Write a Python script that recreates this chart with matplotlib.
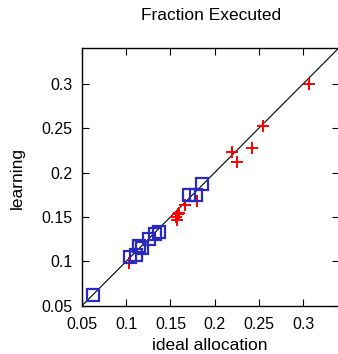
import matplotlib
matplotlib.use("Agg")
import matplotlib.pyplot as plt

plt.rcParams['font.family'] = ['Liberation Sans', 'DejaVu Sans']

# Red pluses: (ideal allocation, learning)
red_x = [0.307, 0.255, 0.220, 0.225, 0.2425, 0.180, 0.167, 0.158, 0.156, 0.157, 0.160, 0.103]
red_y = [0.300, 0.252, 0.223, 0.212, 0.228, 0.168, 0.163, 0.153, 0.150, 0.147, 0.155, 0.098]

# Blue squares
blue_x = [0.062, 0.104, 0.111, 0.114, 0.118, 0.126, 0.1326, 0.137, 0.171, 0.1786, 0.1853]
blue_y = [0.0624, 0.105, 0.107, 0.1177, 0.1148, 0.1256, 0.1306, 0.1332, 0.1749, 0.1749, 0.1866]

xticks = [0.05, 0.1, 0.15, 0.2, 0.25, 0.3]
yticks = [0.05, 0.1, 0.15, 0.2, 0.25, 0.3]
lim = [0.05, 0.34]

W, H = 338, 354
fig = plt.figure(figsize=(W / 100, H / 100), dpi=100)
ax = fig.add_axes([82 / W, (H - 305.7) / H, 256.5 / W, 257.4 / H])

ax.plot(lim, lim, color='black', lw=0.8)
ax.plot(red_x, red_y, linestyle='none', marker='+', color='#ff0000',
        markersize=8, markeredgewidth=1.4)
ax.plot(blue_x, blue_y, linestyle='none', marker='s', markerfacecolor='none',
        markeredgecolor='#2a2ac0', markersize=8, markeredgewidth=1.6)

ax.set_xlim(lim)
ax.set_ylim(lim)
ax.set_xticks(xticks)
ax.set_yticks(yticks)
ax.set_xticklabels([f"{t:g}" for t in xticks])
ax.set_yticklabels([f"{t:g}" for t in yticks])
ax.tick_params(direction='in', length=5, width=0.8, top=True, right=True,
               labelsize=11.5)
ax.tick_params(axis='x', pad=8)
ax.tick_params(axis='y', pad=7)
for s in ax.spines.values():
    s.set_linewidth(1.0)

fig.text(211 / W, 1 - 16 / H, "Fraction Executed", fontsize=12.5,
         ha='center', va='center')
fig.text(210 / W, 1 - 345 / H, "ideal allocation", fontsize=12.5,
         ha='center', va='center')
fig.text(17 / W, 1 - 178 / H, "learning", fontsize=12.5, rotation=90,
         ha='center', va='center')

fig.savefig("out.png", dpi=100)
